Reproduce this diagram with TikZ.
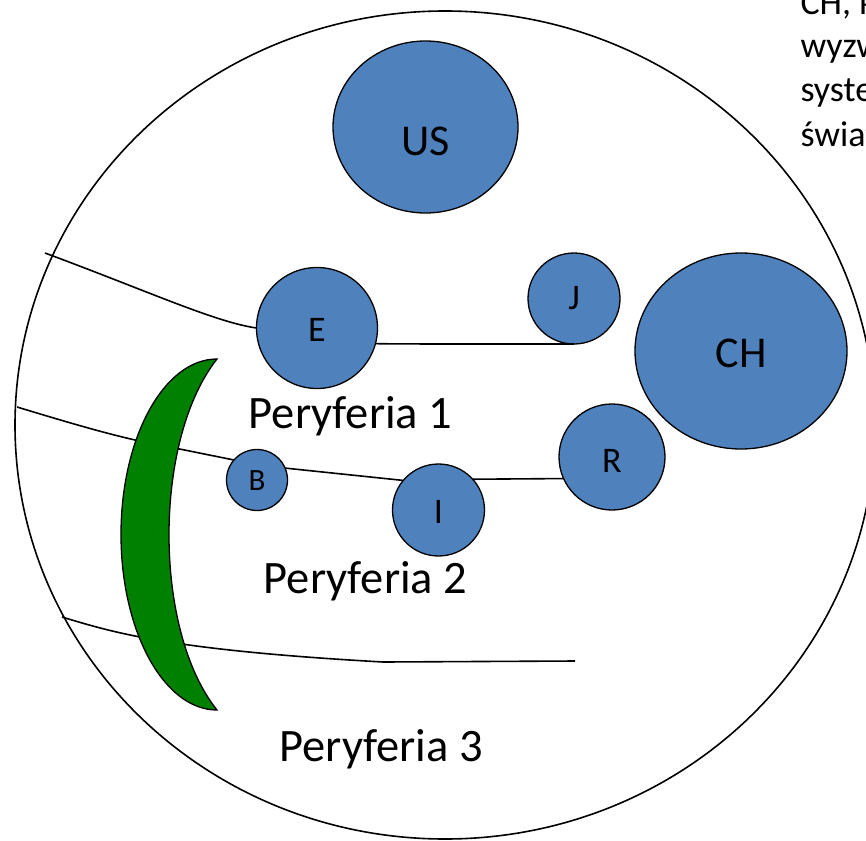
\documentclass[tikz,border=0pt]{standalone}
\usepackage{fontspec}
\setmainfont{Carlito}
\usetikzlibrary{shapes.geometric}
\definecolor{nodeblue}{RGB}{79,129,189}
\definecolor{moongreen}{RGB}{0,128,0}
\begin{document}
\begin{tikzpicture}[x=1pt,y=-1pt,
  country/.style={ellipse, draw=black, line width=1.3pt, fill=nodeblue, inner sep=0pt, outer sep=0pt},
  big/.style={font=\fontsize{44}{52}\selectfont},
  small/.style={font=\fontsize{36}{43}\selectfont},
  tiny/.style={font=\fontsize{31}{37}\selectfont},
  peri/.style={font=\fontsize{46.5}{56}\selectfont, anchor=base},
  side/.style={font=\fontsize{36}{43}\selectfont, anchor=base west},
  conn/.style={line width=1.6pt}]
\useasboundingbox (0,0) rectangle (866,840);
\clip (0,0) rectangle (866,840);
\fill[white] (0,0) rectangle (866,840);

% world system
\node[ellipse, draw=black, line width=1.6pt, minimum width=860pt, minimum height=828pt, inner sep=0pt] (world) at (445,425) {};

% countries
\node[country, minimum width=185pt, minimum height=172pt, label={[big, yshift=-14pt]center:US}] (US) at (425.5,127) {};
\node[country, minimum width=212pt, minimum height=196pt, label={[big, yshift=-2.5pt]center:CH}] (CH) at (741,351) {};
\node[country, minimum width=121pt, minimum height=121pt, label={[small, yshift=-2pt]center:E}] (E) at (317,328) {};
\node[country, minimum width=92pt, minimum height=91pt, label={[small]center:J}] (J) at (574,298.5) {};
\node[country, minimum width=106pt, minimum height=106pt, label={[small, yshift=-4pt]center:R}] (R) at (612,457) {};
\node[country, minimum width=61pt, minimum height=61pt, label={[tiny, yshift=-1pt]center:B}] (B) at (257,480) {};
\node[country, minimum width=92pt, minimum height=92pt, label={[small, yshift=-1.5pt]center:I}] (I) at (438.5,510) {};

% free ends of the boundary lines
\coordinate (l1a) at (45,253);
\coordinate (l2a) at (17,407);
\coordinate (l3a) at (62,617);
\coordinate (l3b) at (575,661);

% boundary lines
\draw[conn] (l1a) .. controls (150,292) and (215,322) .. (E.west);
\draw[conn] (E.-15) .. controls (400,344) and (420,344) .. (J.south);
\draw[conn] (l2a) .. controls (60,420) and (100,432) .. (135,440) -- (B.139);
\draw[conn] (B.23) -- (I.140);
\draw[conn] (I.42) -- (R.204);
\draw[conn] (l3a) .. controls (115,633) and (170,650) .. (383,662) -- (l3b);

% crescent
\draw[fill=moongreen, line width=1.3pt] (217,359) .. controls (164,359) and (121,437.6) .. (121,534.5)
  .. controls (121,631.4) and (164,710) .. (217,710)
  .. controls (153,630) and (153,440) .. (217,359) -- cycle;

% zone labels
\node[peri] (p1) at (350.5,428) {Peryferia 1};
\node[peri] (p2) at (365.5,593) {Peryferia 2};
\node[peri] (p3) at (381,761) {Peryferia 3};

% side text (cut off by the page edge, as in the reference)
\node[side] (s1) at (797,15) {CH, która};
\node[side] (s2) at (797,58) {wyzwanie};
\node[side] (s3) at (797,102) {systemowi};
\node[side] (s4) at (797,146) {światowemu};
\end{tikzpicture}
\end{document}
